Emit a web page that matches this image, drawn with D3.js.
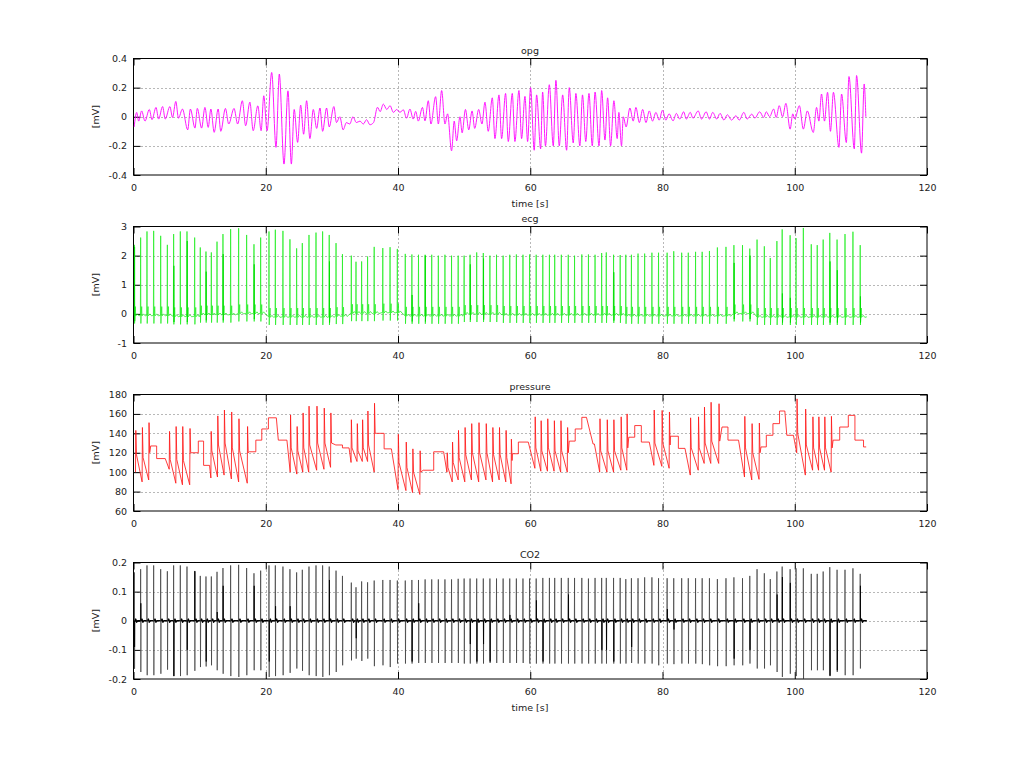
<!DOCTYPE html>
<html><head><meta charset="utf-8">
<script src="https://cdn.jsdelivr.net/npm/d3@7"></script>
<style>
body{margin:0;background:#fff;}
svg text{font-family:"DejaVu Sans",sans-serif;font-size:9.5px;fill:#222;}
</style>
</head><body>
<svg id="chart" width="1024" height="768"></svg>
<script>
// ---------------- data ----------------
const xTicks = [0, 20, 40, 60, 80, 100, 120];
const opgTicks = [-0.4, -0.2, 0, 0.2, 0.4];
const ecgTicks = [-1, 0, 1, 2, 3];
const pressureTicks = [60, 80, 100, 120, 140, 160, 180];
const co2Ticks = [-0.2, -0.1, 0, 0.1, 0.2];

// opg: successive peaks / troughs [time s, mV]
const opgExtrema = [
 [0.1,-0.07],[0.48,0.03],[0.78,-0.03],[1.23,0.04],[1.74,-0.03],[2.39,0.05],[2.8,-0.02],[3.4,0.064],[3.8,-0.016],
 [4.4,0.07],[4.8,-0.016],[5.5,0.07],[5.9,-0.005],[6.4,0.105],[6.8,-0.01],[7.4,0.053],[8.2,-0.09],[8.6,0.053],
 [9.3,-0.078],[9.65,0.057],[10.3,-0.078],[10.8,0.064],[11.3,-0.073],[11.7,0.053],[12.2,-0.107],[12.8,0.053],
 [13.2,-0.1],[13.9,0.057],[14.4,-0.05],[15.2,0.057],[15.75,-0.05],[16.46,0.11],[16.96,-0.062],[17.6,0.1],
 [18.1,-0.096],[18.8,0.075],[19.3,-0.096],[19.7,0.144],[20.2,-0.096],[20.9,0.304],[21.55,-0.21],[22.05,0.293],
 [22.76,-0.325],[23.36,0.178],[23.87,-0.325],[24.3,0.05],[24.82,-0.176],[25.28,0.08],[25.73,-0.12],[26.18,0.11],
 [26.68,-0.15],[27.19,0.05],[27.7,-0.08],[28.2,0.06],[28.6,-0.1],[29.2,0.06],[29.6,-0.07],[30.3,0.07],[30.7,-0.04],
 [31.2,0.0],[31.7,-0.09],[32.2,-0.04],[32.7,-0.05],[33.2,0.0],[33.7,-0.04],[34.25,-0.03],[34.75,-0.05],[35.25,-0.02],
 [35.75,-0.055],[36.3,-0.04],[36.9,0.065],[37.3,0.035],[37.78,0.087],[38.3,0.05],[38.8,0.076],[39.3,0.03],
 [39.8,0.05],[40.3,0.03],[40.8,0.048],[41.3,-0.01],[41.8,0.053],[42.3,-0.016],[42.67,0.037],[43.07,-0.03],
 [43.7,0.064],[44.08,-0.028],[44.58,0.11],[44.98,-0.05],[45.69,0.138],[46.1,-0.05],[46.6,0.18],[47.1,-0.05],
 [47.5,0.02],[48.1,-0.234],[48.5,-0.03],[48.87,-0.165],[49.37,0.0],[49.7,-0.11],[50.2,0.05],[50.7,-0.09],
 [51.2,0.04],[51.6,-0.08],[52.2,0.05],[52.7,-0.05],[53.15,0.1],[53.65,-0.1],[54.26,0.13],[54.66,-0.15],
 [55.27,0.15],[55.67,-0.15],[56.27,0.16],[56.68,-0.17],[57.28,0.16],[57.68,-0.17],[58.29,0.18],[58.69,-0.15],
 [59.2,0.14],[59.6,-0.17],[60.05,0.2],[60.6,-0.23],[60.96,0.15],[61.57,-0.22],[61.87,0.17],[62.3,-0.2],
 [62.88,0.22],[63.48,-0.2],[63.88,0.25],[64.39,-0.2],[64.9,0.15],[65.5,-0.23],[65.9,0.2],[66.5,-0.18],
 [66.9,0.16],[67.5,-0.2],[67.9,0.15],[68.4,-0.17],[68.88,0.16],[69.38,-0.2],[69.8,0.17],[70.4,-0.2],
 [70.8,0.18],[71.3,-0.16],[71.7,0.13],[72.15,-0.2],[72.65,0.11],[73.15,-0.15],[73.4,0.03],[73.8,-0.2],
 [74.07,0.0],[74.5,-0.07],[75.07,0.06],[75.57,-0.03],[75.98,0.064],[76.5,-0.04],[77.0,0.05],[77.5,-0.04],
 [78.0,0.04],[78.5,-0.03],[79.0,0.03],[79.5,-0.023],[80.0,0.045],[80.5,-0.023],[81.0,0.02],[81.6,-0.028],
 [82.1,0.023],[82.6,-0.016],[83.2,0.034],[83.6,-0.016],[84.2,0.03],[84.6,-0.01],[85.4,0.04],[85.9,-0.016],
 [86.6,0.034],[87.1,-0.016],[87.6,0.03],[88.2,-0.016],[88.7,0.023],[89.3,-0.023],[89.8,0.014],[90.45,-0.023],
 [91.1,0.007],[91.6,-0.023],[92.3,0.03],[92.8,-0.016],[93.5,0.018],[93.97,-0.009],[94.7,0.034],[95.3,-0.005],
 [95.7,0.034],[96.2,0.0],[96.8,0.053],[97.2,-0.005],[97.65,0.076],[98.16,0.0],[98.66,0.092],[99.3,-0.085],
 [99.7,0.02],[100.0,-0.016],[100.7,0.076],[101.3,-0.085],[101.9,0.04],[102.8,-0.108],[103.3,0.064],
 [103.65,-0.03],[104.05,0.156],[104.5,-0.03],[104.96,0.168],[105.4,-0.1],[105.85,0.168],[106.68,-0.21],
 [107.08,0.156],[107.8,-0.177],[108.2,0.276],[109.0,-0.22],[109.35,0.283],[110.1,-0.25],[110.5,0.225],[110.75,0.0]
];

// heart beats (shared by ecg and CO2)
const beatT = [0.13,1.08,2.04,3.05,4.11,5.12,6.07,7.08,8.09,9.25,10.1,10.96,11.77,12.63,13.53,14.69,15.9,17.11,18.22,
 19.23,20.49,21.45,22.6,23.66,24.67,25.53,26.54,27.6,28.6,29.6,30.63,31.6,32.94,33.65,34.5,35.4,36.4,
 37.7,38.8,39.9,41.1,42.1,43.1,44.1,45.1,46.1,47.1,48.1,49.1,50.0,50.9,51.9,52.9,53.9,54.9,55.9,56.9,57.9,58.9,
 59.9,60.9,61.9,62.9,63.7,64.7,65.75,66.7,67.8,68.8,69.8,70.8,71.5,72.6,73.6,
 74.45,75.3,76.3,77.3,78.4,79.4,80.7,81.7,82.9,83.9,85.0,86.0,87.1,88.3,89.6,90.8,92.1,93.2,94.3,95.4,96.3,97.3,
 98.1,99.3,100.2,101.3,102.5,103.4,104.3,105.3,106.4,107.6,108.8,109.9];
const ecgPeak = [2.37,2.62,2.83,2.85,2.68,2.37,2.74,2.83,2.83,2.62,2.28,2.14,2.11,2.48,2.74,2.91,2.94,2.71,2.39,
 2.62,2.83,2.89,2.85,2.56,2.25,2.43,2.71,2.79,2.83,2.71,2.43,2.05,2.0,1.79,1.8,1.97,2.3,
 2.26,2.29,2.23,2.06,2.04,2.03,2.03,2.03,2.0,2.03,2.0,2.0,2.0,2.03,2.11,2.09,2.0,2.03,2.0,2.03,2.04,2.03,
 2.04,2.03,2.03,2.03,2.03,2.03,2.03,2.0,2.04,2.04,2.03,2.09,2.11,2.03,2.02,
 2.03,2.03,2.07,2.07,2.1,2.1,2.1,2.15,2.1,2.1,2.13,2.13,2.16,2.28,2.3,2.36,2.36,2.24,2.55,2.32,1.92,2.5,
 2.9,2.7,2.6,2.95,2.39,2.36,2.55,2.78,2.55,2.74,2.82,2.36];
const ecgBase = [-0.05,-0.05,-0.05,-0.05,-0.05,-0.05,-0.08,-0.08,-0.08,-0.08,-0.02,-0.02,-0.02,-0.02,-0.02,-0.02,
 0.02,0.02,0.02,0.02,-0.1,-0.1,-0.1,-0.1,-0.1,-0.1,-0.1,-0.1,-0.1,-0.1,-0.07,-0.07,0.03,0.03,0.03,0.03,0.03,
 0.05,0.05,0.05,-0.06,-0.06,-0.06,-0.06,-0.06,-0.06,-0.06,-0.06,-0.06,0,0,0,0,0,0,
 -0.03,-0.03,-0.03,-0.03,-0.03,-0.03,-0.03,-0.03,-0.03,-0.03,-0.03,-0.03,-0.03,-0.03,-0.03,-0.03,-0.03,-0.03,-0.03,
 -0.06,-0.06,-0.06,-0.06,-0.06,-0.06,-0.06,-0.06,-0.06,-0.06,-0.06,-0.06,-0.06,-0.06,-0.06,0.02,0.02,0.02,
 -0.1,-0.1,-0.1,-0.1,-0.1,-0.1,-0.1,-0.1,-0.1,-0.1,-0.1,-0.1,-0.1,-0.1,-0.1,-0.1];
const ecgExtraT = [0.13,6.07,8.09,10.96,13.53,18.22,29.6,42.1,44.1,50.9,52.9,72.6,90.8,93.2,98.1,99.3,105.3,106.4,109.9];
const ecgExtraV = [2.3,1.65,2.5,1.45,2.05,1.7,1.8,0.65,2.0,1.7,1.9,1.43,1.75,2.0,0.7,0.55,1.8,1.5,0.6];

const co2Top = [.166,.177,.19,.19,.177,.17,.19,.19,.186,.171,.154,.152,.152,.168,.181,.19,.192,.181,.163,.172,
 .19,.19,.186,.177,.166,.175,.186,.19,.19,.186,.172,.154,.131,.115,.135,.132,.138,
 .14,.14,.138,.138,.14,.14,.142,.142,.142,.142,.142,.144,.145,.145,.145,.145,.145,.145,.145,.145,.145,.145,
 .145,.145,.147,.147,.147,.147,.147,.147,.147,.145,.147,.147,.147,.147,.147,
 .143,.146,.146,.149,.149,.146,.146,.146,.146,.146,.146,.146,.146,.143,.146,.149,.146,.154,.177,.163,.143,.169,
 .186,.177,.18,.18,.161,.161,.169,.184,.175,.175,.18,.161];
const co2Bottom = [-.165,-.176,-.187,-.187,-.182,-.168,-.19,-.19,-.187,-.172,-.159,-.157,-.153,-.17,-.182,-.19,-.193,
 -.187,-.17,-.17,-.193,-.19,-.187,-.179,-.164,-.172,-.187,-.19,-.193,-.187,-.176,-.153,-.136,-.13,-.138,-.13,-.156,
 -.153,-.159,-.147,-.147,-.147,-.145,-.145,-.145,-.145,-.145,-.145,-.145,-.147,-.147,-.147,-.147,-.145,-.145,-.145,
 -.145,-.145,-.145,-.147,-.147,-.147,-.147,-.147,-.147,-.147,-.147,-.147,-.147,-.147,-.147,-.147,-.147,-.147,
 -.147,-.145,-.147,-.147,-.147,-.153,-.147,-.149,-.147,-.147,-.147,-.149,-.153,-.156,-.156,-.153,-.153,-.147,
 -.164,-.164,-.153,-.176,-.193,-.182,-.19,-.2,-.17,-.17,-.17,-.187,-.176,-.187,-.187,-.164];
const co2ExtraT = [0.13,1.08,6.07,8.09,9.25,10.96,12.63,13.53,18.22,20.49,21.45,23.66,29.6,33.65,42.1,43.1,50.9,51.9,
 52.9,53.9,56.9,60.9,61.9,65.75,70.8,71.5,72.6,75.3,80.7,81.7,90.8,93.2,97.3,98.1,99.3,105.3,106.4,109.9];
const co2ExtraV = [-0.09,0.06,-0.19,-0.1,0.17,-0.14,0.03,0.12,0.12,-0.14,0.05,0.05,0.14,-0.06,-0.14,0.06,-0.08,-0.14,
 -0.08,-0.14,0.02,0.07,-0.14,0.09,-0.1,-0.1,-0.14,-0.09,0.04,-0.03,-0.13,-0.1,0.09,0.15,0.13,-0.19,-0.17,0.12];

// pressure: beats [onset s, diastolic, systolic, notch] and flat hold segments [start s, end s, value]
const pressureBeats = [
 [0.3,100,143,118],[1.3,90,146,115],[2.3,92,151,120],[5.4,103,142,113],[6.4,88.6,147,113],[7.4,87,147,112],
 [8.5,87,145,120],[11.7,94,142,122],[12.7,95,158,128],[13.7,97,164,130],[14.8,93,162,125],[15.9,90,155,122],
 [17.2,88.6,147,120],[23.7,100,159,125],[24.7,98,147,122],[25.6,100,161,125],[26.5,100,168,128],[27.7,102,168,130],
 [28.8,103,166,130],[29.8,105,161,130],[32.9,110,154,125],[33.8,111,150,122],[34.6,111,154,125],[35.4,111,163,128],
 [36.4,100,171,140],[40.0,82,139,110],[41.2,81,131,105],[42.2,79,124,100],[43.3,77,122,100],[47.4,100,120,105],
 [48.2,90,131,110],[49.1,92,143,115],[50.1,90,146,118],[51.1,92,150,120],[52.2,90,151,120],[53.3,92,150,120],
 [54.3,90,146,118],[55.3,92,146,118],[56.3,90,143,115],[57.1,88,134,112],[60.7,104,157,125],[61.6,101,153,122],
 [62.6,101,155,125],[63.6,101,153,122],[64.6,100,153,122],[65.6,100,146,120],[70.5,100,155,122],[71.6,100,154,122],
 [72.6,100,154,122],[73.7,102,157,125],[74.6,102,160,125],[78.7,107,164,130],[79.9,106,163.6,130],[81.0,104,162,128],
 [84.2,97,156,125],[85.4,102,157,125],[86.3,109,167,130],[87.3,109,172,132],[88.5,109,170.5,132],[92.4,95,157.5,125],
 [93.5,92,150,120],[94.6,92.6,150.6,120],[100.3,120,175.5,140],[101.6,97,165,128],[102.7,102,157,125],
 [103.6,102,157,125],[104.5,102,157,125],[105.5,100,157.5,125]
];
const pressureHolds = [
 [2.6,3.5,127],[3.5,4.8,114],[8.7,9.8,120],[9.8,10.6,132],[10.6,11.5,107],[17.5,18.5,121],[18.5,19.4,133],
 [19.4,20.4,144.5],[20.4,21.6,156],[21.9,23.2,133],[30.6,31.6,128],[31.6,32.6,125],[36.8,37.9,140],[37.9,39.0,124],
 [43.8,45.4,102],[45.4,46.9,121],[57.3,58.2,119],[58.2,59.7,131],[65.9,66.8,132],[66.8,67.8,144.5],[67.8,68.5,156.5],
 [69.5,69.7,129],
 [74.9,75.8,136],[75.8,76.8,148],[76.8,78.0,131],[81.2,82.4,137],[82.4,83.4,124.5],[89.0,89.9,146.5],[89.9,91.5,133],
 [94.9,95.7,126],[95.7,96.7,138],[96.7,97.7,150],[97.7,98.5,163],[98.8,99.8,138],[105.8,106.8,133],
 [106.8,108.1,146.5],[108.1,109.1,158.5],[109.1,110.4,133],[110.4,110.8,126]
];

// ---------------- drawing ----------------
const svg = d3.select("#chart");
const left = 133.5, right = 927, ph = 116.5;
const tops = [58.5, 226.5, 394.5, 562.5];
const x = d3.scaleLinear().domain([0, 120]).range([left, right]);
const fmt = d => (d < 0 ? "-" : "") + (Number.isInteger(d) ? String(Math.abs(d)) : Math.abs(d).toFixed(1));

const panels = [
 {title: "opg", domain: [-0.4, 0.4], ticks: opgTicks, xlabel: true},
 {title: "ecg", domain: [-1, 3], ticks: ecgTicks, xlabel: false},
 {title: "pressure", domain: [60, 180], ticks: pressureTicks, xlabel: false},
 {title: "CO2", domain: [-0.2, 0.2], ticks: co2Ticks, xlabel: true}
];

const ys = panels.map((p, i) => {
  const top = tops[i], bot = top + ph;
  const y = d3.scaleLinear().domain(p.domain).range([bot, top]);
  const g = svg.append("g");
  svg.append("clipPath").attr("id", "clip" + i).append("rect")
    .attr("x", left).attr("y", top).attr("width", right - left).attr("height", ph);
  // grid
  const grid = g.append("g").attr("stroke", "#707070").attr("stroke-width", 1).attr("stroke-dasharray", "1,3");
  xTicks.slice(1, -1).forEach(t => grid.append("line")
    .attr("x1", Math.round(x(t)) + 0.5).attr("x2", Math.round(x(t)) + 0.5).attr("y1", top).attr("y2", bot));
  p.ticks.slice(1, -1).forEach(t => grid.append("line")
    .attr("x1", left).attr("x2", right).attr("y1", Math.round(y(t)) + 0.5).attr("y2", Math.round(y(t)) + 0.5));
  // axes
  const styleAxis = sel => {
    sel.select(".domain").remove();
    sel.selectAll(".tick line").attr("stroke", "#000");
    sel.selectAll("text").attr("fill", "#222").style("font-family", '"DejaVu Sans",sans-serif').style("font-size", "9.5px");
  };
  g.append("g").attr("transform", `translate(0,${bot})`)
    .call(d3.axisBottom(x).tickValues(xTicks).tickSizeInner(-7).tickSizeOuter(0).tickPadding(9).tickFormat(fmt))
    .call(styleAxis);
  g.append("g").attr("transform", `translate(0,${top})`)
    .call(d3.axisTop(x).tickValues(xTicks).tickSizeInner(-7).tickSizeOuter(0).tickFormat(""))
    .call(styleAxis);
  g.append("g").attr("transform", `translate(${left},0)`)
    .call(d3.axisLeft(y).tickValues(p.ticks).tickSizeInner(-7).tickSizeOuter(0).tickPadding(6.5).tickFormat(fmt))
    .call(styleAxis);
  g.append("g").attr("transform", `translate(${right},0)`)
    .call(d3.axisRight(y).tickValues(p.ticks).tickSizeInner(-7).tickSizeOuter(0).tickFormat(""))
    .call(styleAxis);
  g.append("rect").attr("x", left).attr("y", top).attr("width", right - left).attr("height", ph)
    .attr("fill", "none").attr("stroke", "#000").attr("stroke-width", 1);
  g.append("text").attr("x", 530).attr("y", top - 5).attr("text-anchor", "middle").text(p.title);
  g.append("text").attr("transform", `translate(99,${top + ph / 2}) rotate(-90)`)
    .attr("text-anchor", "middle").text("[mV]");
  if (p.xlabel) g.append("text").attr("x", 530).attr("y", bot + 31.5).attr("text-anchor", "middle").text("time [s]");
  return y;
});

function draw(i, pts, color, width, curve) {
  const y = ys[i];
  const line = d3.line().x(d => x(d[0])).y(d => y(d[1])).curve(curve || d3.curveLinear);
  svg.append("path").attr("clip-path", `url(#clip${i})`).attr("d", line(pts))
    .attr("fill", "none").attr("stroke", color).attr("stroke-width", width).attr("stroke-linejoin", "round");
}

// opg
draw(0, opgExtrema, "#ff00ff", 0.9, d3.curveMonotoneX);

// ecg
const ecgPts = [];
beatT.forEach((t, i) => {
  const b = ecgBase[i], p = ecgPeak[i];
  ecgPts.push([t - 0.04, b], [t, p], [t + 0.035, b - 0.28], [t + 0.07, b], [t + 0.16, b + 0.3], [t + 0.2, b - 0.02],
    [t + 0.45, b + 0.05], [t + 0.7, b - 0.02]);
});
ecgPts.push([110.9, ecgBase[ecgBase.length - 1]]);
draw(1, ecgPts, "#22ee22", 0.75);
ecgExtraT.forEach((t, k) => {
  const b = ecgBase[d3.minIndex(beatT, bt => Math.abs(bt - t))];
  draw(1, [[t + 0.02, b], [t + 0.035, ecgExtraV[k]], [t + 0.05, b - 0.2], [t + 0.08, b]], "#00dd00", 0.8);
});

// pressure
const events = [];
pressureBeats.forEach(([t, lo, hi, notch]) => events.push({t, pts: [[t, lo], [t + 0.05, hi], [t + 0.15, notch]]}));
pressureHolds.forEach(([t0, t1, v]) => events.push({t: t0, pts: [[t0, v], [t1, v]]}));
events.sort((a, b) => a.t - b.t);
draw(2, events.flatMap(e => e.pts), "#ff1a1a", 0.85);

// CO2: baseline (dark, with small wiggles between beats) and the beat bars
const co2Base = [[0, 0]];
beatT.forEach(t => co2Base.push([t + 0.06, 0], [t + 0.2, 0.006], [t + 0.35, -0.005], [t + 0.5, 0]));
co2Base.push([110.9, 0]);
draw(3, co2Base, "#000", 1.4);
beatT.forEach((t, i) => {
  draw(3, [[t - 0.03, 0], [t, co2Top[i]], [t + 0.03, co2Bottom[i]], [t + 0.06, 0]], "#3a3a3a", 0.7);
});
co2ExtraT.forEach((t, k) => draw(3, [[t + 0.02, 0], [t + 0.035, co2ExtraV[k]], [t + 0.05, 0]], "#000", 0.8));
</script>
</body></html>
